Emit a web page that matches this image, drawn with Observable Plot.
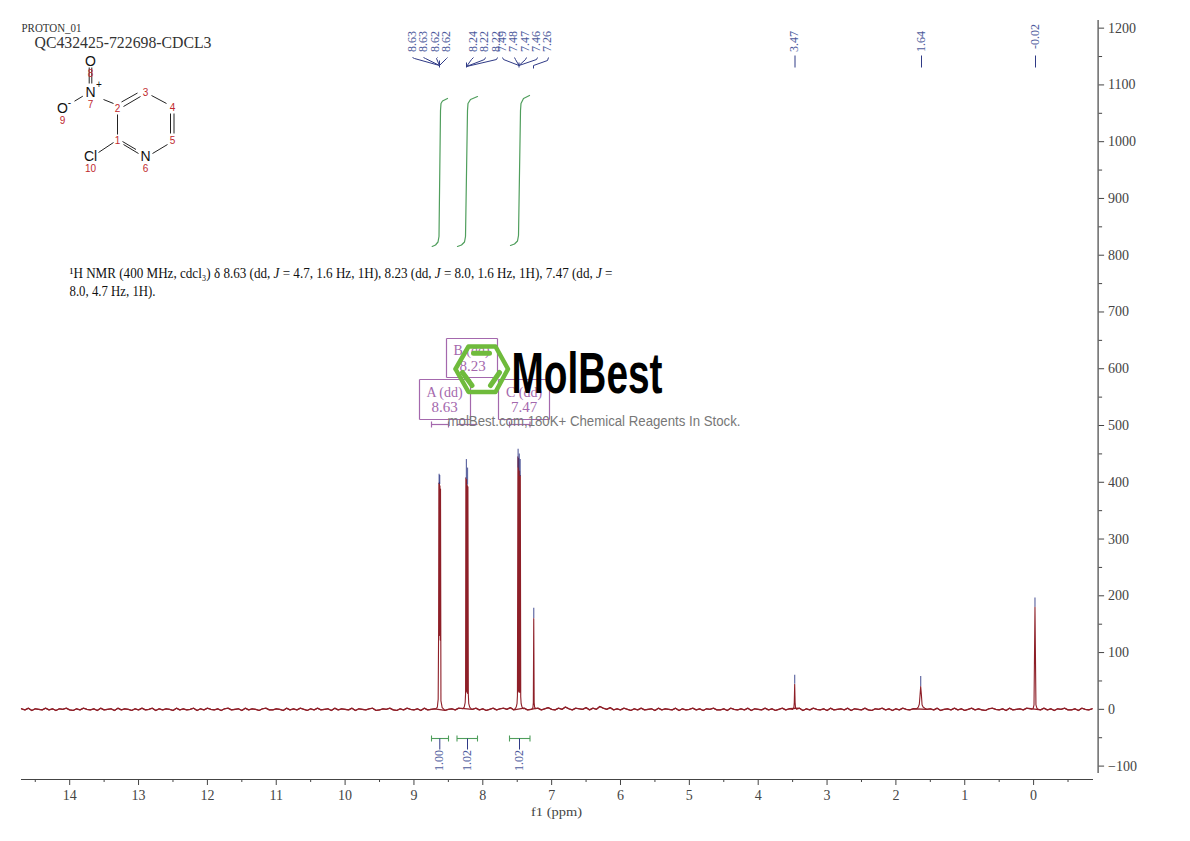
<!DOCTYPE html>
<html><head><meta charset="utf-8">
<script src="https://cdn.jsdelivr.net/npm/d3@7"></script>
<script src="https://cdn.jsdelivr.net/npm/@observablehq/plot@0.6"></script>
<style>html,body{margin:0;padding:0;background:#fff;overflow:hidden}svg{display:block;max-width:none!important}</style>
</head><body><div id="chart"></div>
<script>
// ---- spectrum values ----
const baselineGrid = d3.range(14.7, -0.9, -0.05);
const baselineValues = [1,-1,2,-2,1,0,-1,2,-1,1,-2,1,0,2,-1,-2,1,-1,2,0,-1,1,-2,2,-1,0,1,-2,2,-1,
 1,0,-2,1,-1,2,-1,0,2,-2,1,-1,1,0,-2,2,-1,1,-1,0,2,-2,1,-1,2,0,-1,1,-2,1,
 2,-1,0,1,-2,2,-1,1,0,-2,1,2,-1,-1,1,0,-2,2,-1,1,-1,2,0,-2,1,-1,2,-1,0,1,
 -2,2,-1,1,0,-1,2,-2,1,0,-1,1,2,-2,-1,1,0,2,-1,-2,1,-1,2,0,-1,1,-2,2,-1,0,
 1,-1,2,-2,0,1,-1,2,-1,-2,1,0,2,-1,1,-2,0,2,-1,1,2,0,3,-1,2,0,2,-1,3,0,
 2,-1,1,3,0,-1,2,0,4,1,-1,2,1,0,3,-1,2,0,5,2,0,3,-1,1,-1,2,0,-2,1,-1,
 2,-1,0,1,-2,2,-1,1,0,-1,2,-2,1,-1,0,2,-1,1,-2,1,0,2,-1,-1,1,-2,2,0,-1,1,
 -1,2,-2,1,0,-1,2,-1,1,-2,0,2,-1,1,-1,0,2,-2,1,-1,2,0,-1,1,-2,2,-1,0,1,-1,
 2,-2,1,0,-1,2,-1,-2,1,0,2,-1,1,-2,1,-1,2,0,-1,1,-2,2,-1,0,1,-1,2,-2,0,1,
 -1,2,-1,1,-2,0,2,-1,1,-1,-2,1,2,0,-1,1,-2,2,-1,0,1,-1,2,-2,1,0,-1,2,-1,1,
 -2,1,0,2,-1,-1,1,-2,2,0,-1,1,0];
const peakPpm = [8.68,8.66,8.648,8.642,8.638,8.634,8.630,8.626,8.622,8.618,8.614,8.608,8.59,
 8.29,8.27,8.256,8.250,8.246,8.240,8.236,8.230,8.226,8.220,8.216,8.210,8.204,8.19,8.17,
 7.53,7.515,7.503,7.497,7.490,7.485,7.478,7.473,7.466,7.461,7.455,7.449,7.443,7.43,7.41,
 7.29,7.272,7.266,7.260,7.254,7.248,7.23,
 3.50,3.482,3.476,3.470,3.464,3.458,3.44,
 1.70,1.675,1.66,1.65,1.64,1.63,1.62,1.605,1.58,
 0.03,0.008,-0.006,-0.020,-0.034,-0.048,-0.07];
const peakIntensity = [1,4,18,135,398,132,400,130,394,122,388,15,3,
 1,4,12,28,408,32,405,30,395,28,392,26,10,4,1,
 1,4,10,24,445,32,442,30,420,30,412,22,10,4,1,
 0,3,12,160,12,4,1,
 0,3,12,44,12,3,0,
 1,4,9,24,40,26,8,4,2,
 0,1,8,180,8,2,0];
const peakLabelText = ["8.63","8.63","8.62","8.62","8.24","8.22","8.22","7.49","7.48","7.47","7.46","7.26","3.47","1.64","-0.02"];
const peakTipPpm = [8.634,8.626,8.238,8.222,7.487,7.47,7.457,7.26,3.47,1.64,-0.02];
const peakTipTop = [414,412,440,425,458,450,440,178,60,58,196];
const peakTipBottom = [396,396,405,395,425,420,410,160,44,40,180];
const integralValues = ["1.00","1.02","1.02"];
const multipletNames = ["A (dd)","B (dd)","C (dd)"];
const multipletShifts = ["8.63","8.23","7.47"];
const xMajor = d3.range(0,15);
const xMinor = d3.range(-0.5,14.6,1);
const yMajor = d3.range(-100,1201,100);
const yMinor = d3.range(-50,1201,100);

// ---- chart frame ----
const frame = {left:21,right:1093,top:18,bottom:779};
const xDomain = [14.7,-0.87];
const yDomain = [-123.6,1217];
const xAt = d3.scaleLinear([frame.left,frame.right],xDomain);
const yAt = d3.scaleLinear([frame.bottom,frame.top],yDomain);
const segs = rows => rows.map(([a,b,c,d])=>({x1:xAt(a),y1:yAt(b),x2:xAt(c),y2:yAt(d)}));
const path = (rows,id) => rows.map(([a,b])=>({x:xAt(a),y:yAt(b),id}));
const labels = rows => rows.map(([a,b,t])=>({x:xAt(a),y:yAt(b),t}));

const peakRanges = [[8.55,8.70],[8.15,8.30],[7.40,7.54],[7.22,7.30],[3.42,3.52],[1.56,1.72],[-0.09,0.05]];
const baseline = baselineGrid.map((p,i)=>({p,v:baselineValues[i]??0}))
  .filter(d=>!peakRanges.some(([a,b])=>d.p>a&&d.p<b));
const spectrum = baseline
  .concat(peakPpm.map((p,i)=>({p,v:peakIntensity[i]??0})))
  .sort((a,b)=>b.p-a.p);

const red="#8e1f28", navy="#2f3a86", labelBlue="#4d5a9c", green="#4f9e5c", purple="#a468ad", axisC="#444";
const serif="'Liberation Serif',serif", sans="'Liberation Sans',Arial,sans-serif";

// ---- peak label leaders (pixel layout of the annotation) ----
const labelX=[412,423,435,446,472.5,484,496,502,513,524.5,536,547,794,921,1035];
const leaders = segs([
 [412,57,414,58],[414,58,439,65],[423,57,425,58],[425,58,439,65],[437,57,436,58],[436,58,439,65],[447,57,446,58],[446,58,439,65],[439,60,439,67],
 [473,57,471,59],[471,59,466,66],[485,57,484,59],[484,59,466,66],[497,57,496,59],[496,59,466,66],[466,62,466,67],
 [502,57,503,59],[503,59,518.5,65],[514,57,515,59],[515,59,518.5,65],[526,57,525,59],[525,59,518.5,65],[537,57,536,59],[536,59,518.5,65],[518.5,62,518.5,67],
 [548,57,547,60],[547,60,533,65],[533,65,533,68],
 [794.5,55,794.5,67],[921,55,921,67],[1035,55,1035,67]]);

// ---- integral curves ----
const integrals = [
 ...path([[431.7,246],[435,244.5],[437.5,241.5],[438.5,236],[440,110],[440.5,103],[442,100.5],[447,98]],"a"),
 ...path([[457,246],[461,244.5],[464,241.5],[465,236],[467,110],[467.5,103],[470,99],[477,96]],"b"),
 ...path([[510,245],[514,243.5],[517,240.5],[518,235],[520,110],[520.5,103],[523,98],[529,95]],"c")];
const brackets = segs([[431,738,448,738],[431,735,431,741],[448,735,448,741],
 [456.5,738,477,738],[456.5,735,456.5,741],[477,735,477,741],
 [509,738,529.5,738],[509,735,509,741],[529.5,735,529.5,741]]);
const integralStems = segs([[439.3,738,439.3,749],[467,738,467,749],[519,738,519,749]]);

// ---- multiplet boxes ----
const boxes = segs([[419,379,470,379],[470,379,470,419],[470,419,419,419],[419,419,419,379],
 [446,338,497,338],[497,338,497,377],[497,377,446,377],[446,377,446,338],
 [498,379,549,379],[549,379,549,419],[549,419,498,419],[498,419,498,379],
 [431,424,448,424],[431,421,431,427],[448,421,448,427],
 [456.5,424,477,424],[509,424,529.5,424],[509,421,509,427],[529.5,421,529.5,427]]);

// ---- structure drawing ----
const bonds = segs([[88.7,67,88.7,83],[91.3,67,91.3,83],[74,100.7,82.3,95.7],[103,99,113,103],
 [117,114,117,134],[123,106,140,96],[121,101.5,137,92.5],[151,95,166,103],[170,113,170,133],[173.5,113,173.5,133],
 [167,144,152,153],[138,153,123,144],[135.5,149,122,141],[113,142,98,152]]);
const atoms = labels([[90,61,"O"],[90,92,"N"],[62,108,"O"],[90,156,"Cl"],[145,156,"N"]]);
const charges = labels([[98.5,84,"+"],[69,102,"-"]]);
const atomNumbers = labels([[117,140,"1"],[117,108,"2"],[145,92,"3"],[172,107,"4"],[172,140,"5"],[145,168,"6"],[90,104,"7"],[90,73,"8"],[62,120,"9"],[90,168,"10"]]);

// ---- watermark ----
const hexagon = path([[455,368.5],[468,346],[495,346],[507.5,368.5],[495,391.5],[468,391.5],[455,368.5]],"hex");
const hexBars = segs([[473,352.7,489,352.7],[499,372,490,385],[462,372,471.5,385]]);

const fit = (len,italic) => (index,scales,values,dims,ctx,next) => {
  const g = next(index,scales,values,dims,ctx);
  g.querySelectorAll("text").forEach(t=>{
    if (italic) {
      const parts = t.textContent.split("J");
      t.textContent="";
      parts.forEach((s,i)=>{
        if(i){const e=document.createElementNS("http://www.w3.org/2000/svg","tspan");e.setAttribute("font-style","italic");e.textContent="J";t.appendChild(e);}
        t.appendChild(document.createTextNode(s));
      });
    }
    t.setAttribute("textLength",len);
    t.setAttribute("lengthAdjust","spacingAndGlyphs");
  });
  return g;
};

const plot = Plot.plot({
  width:1190,height:841,
  marginLeft:frame.left,marginRight:1190-frame.right,marginTop:frame.top,marginBottom:841-frame.bottom,
  x:{domain:xDomain,range:[frame.left,frame.right]},
  y:{domain:yDomain,range:[frame.bottom,frame.top]},
  style:{background:"#fff",fontFamily:serif,overflow:"visible"},
  marks:[
    // axes
    Plot.ruleY([yDomain[0]],{stroke:axisC,strokeWidth:1.2}),
    Plot.axisX({ticks:xMajor,tickSize:6,tickPadding:5,label:null,fontSize:14,fontFamily:serif,color:axisC,tickFormat:d=>String(d)}),
    Plot.axisX({ticks:xMinor,tickSize:3,label:null,tickFormat:()=>"",color:axisC}),
    Plot.ruleX([xDomain[1]],{y1:yAt(773),y2:yAt(20),dx:4.6,stroke:axisC,strokeWidth:1.2}),
    Plot.axisY({anchor:"right",ticks:yMajor,tickSize:5.5,tickPadding:4.5,dx:4.6,label:null,fontSize:14,fontFamily:serif,color:axisC,tickFormat:d=>d<0?"\u2212"+(-d):String(d)}),
    Plot.axisY({anchor:"right",ticks:yMinor,tickSize:3.5,dx:4.6,label:null,tickFormat:()=>"",color:axisC}),
    Plot.text(labels([[556,811,"f1 (ppm)"]]),{x:"x",y:"y",text:"t",fontFamily:serif,fontSize:13,fill:axisC,render:fit(51,false)}),
    // spectrum
    Plot.line(baseline,{x:"p",y:"v",stroke:red,strokeWidth:1.3}),
    Plot.line(spectrum,{x:"p",y:"v",stroke:red,strokeWidth:1.1,curve:"linear"}),
    Plot.ruleX(peakTipPpm.map((p,i)=>({p,a:peakTipBottom[i],b:peakTipTop[i]})),{x:"p",y1:"a",y2:"b",stroke:navy,strokeWidth:1.2,strokeOpacity:0.75}),
    // peak labels
    Plot.link(leaders,{x1:"x1",y1:"y1",x2:"x2",y2:"y2",stroke:navy,strokeWidth:1}),
    Plot.text(peakLabelText.map((t,i)=>({t,x:xAt(labelX[i]),y:yAt(i==14?36:41)})),{x:"x",y:"y",text:"t",rotate:-90,fontFamily:serif,fontSize:12,fill:labelBlue}),
    // integrals
    Plot.line(integrals,{x:"x",y:"y",z:"id",stroke:green,strokeWidth:1.2}),
    Plot.link(brackets,{x1:"x1",y1:"y1",x2:"x2",y2:"y2",stroke:green,strokeWidth:1.1}),
    Plot.link(integralStems,{x1:"x1",y1:"y1",x2:"x2",y2:"y2",stroke:navy,strokeWidth:1}),
    Plot.text(integralValues.map((t,i)=>({t,x:xAt([439,467,519][i]),y:yAt(760)})),{x:"x",y:"y",text:"t",rotate:-90,fontFamily:serif,fontSize:12,fill:labelBlue}),
    // title & structure
    Plot.text(labels([[21,27,"PROTON_01"]]),{x:"x",y:"y",text:"t",textAnchor:"start",fontFamily:serif,fontSize:13,fill:"#333",render:fit(60,false)}),
    Plot.text(labels([[34,42,"QC432425-722698-CDCL3"]]),{x:"x",y:"y",text:"t",textAnchor:"start",fontFamily:serif,fontSize:17,fill:"#333",render:fit(177,false)}),
    Plot.link(bonds,{x1:"x1",y1:"y1",x2:"x2",y2:"y2",stroke:"#222",strokeWidth:1}),
    Plot.text(atoms,{x:"x",y:"y",text:"t",fontFamily:sans,fontSize:14,fill:"#111"}),
    Plot.text(charges,{x:"x",y:"y",text:"t",fontFamily:sans,fontSize:10,fill:"#111"}),
    Plot.text(atomNumbers,{x:"x",y:"y",text:"t",fontFamily:sans,fontSize:10,fill:"#c0282d"}),
    // NMR text
    Plot.text(labels([[69,273,"\u00B9H NMR (400 MHz, cdcl\u2083) \u03B4 8.63 (dd, J = 4.7, 1.6 Hz, 1H), 8.23 (dd, J = 8.0, 1.6 Hz, 1H), 7.47 (dd, J ="]]),
      {x:"x",y:"y",text:"t",textAnchor:"start",fontSize:14,fill:"#111",render:fit(543,true)}),
    Plot.text(labels([[69,291,"8.0, 4.7 Hz, 1H)."]]),{x:"x",y:"y",text:"t",textAnchor:"start",fontSize:14,fill:"#111",render:fit(86,false)}),
    // multiplet boxes
    Plot.link(boxes,{x1:"x1",y1:"y1",x2:"x2",y2:"y2",stroke:purple,strokeWidth:1.2}),
    Plot.text(multipletNames.map((t,i)=>({t,x:xAt([444,471,523.5][i]),y:yAt([392,350,392][i])})),{x:"x",y:"y",text:"t",fontFamily:serif,fontSize:14,fill:purple}),
    Plot.text(multipletShifts.map((t,i)=>({t,x:xAt([444,472,523.5][i]),y:yAt([407,366,407][i])})),{x:"x",y:"y",text:"t",fontFamily:serif,fontSize:15,fill:purple}),
    // watermark
    Plot.line(hexagon,{x:"x",y:"y",stroke:"#6fbb3c",strokeWidth:4.5,strokeLinejoin:"round"}),
    Plot.link(hexBars,{x1:"x1",y1:"y1",x2:"x2",y2:"y2",stroke:"#6fbb3c",strokeWidth:5,strokeLinecap:"round"}),
    Plot.text(labels([[511,373.5,"MolBest"]]),{x:"x",y:"y",text:"t",textAnchor:"start",fontFamily:sans,fontWeight:700,fontSize:58,fill:"#000",render:fit(151,false)}),
    Plot.text(labels([[447,421,"molBest.com,180K+ Chemical Reagents In Stock."]]),{x:"x",y:"y",text:"t",textAnchor:"start",fontFamily:sans,fontSize:14,fill:"#777",render:fit(293,false)})
  ]
});
document.getElementById("chart").appendChild(plot);
</script></body></html>
